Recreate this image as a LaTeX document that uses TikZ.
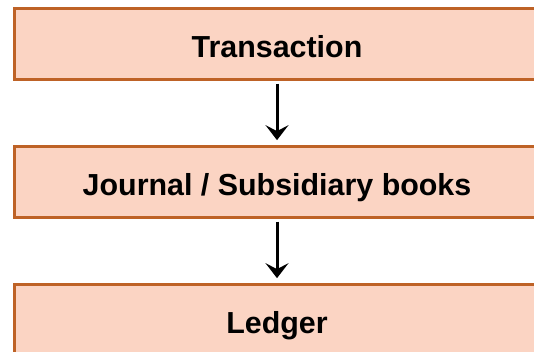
\documentclass[tikz,border=0pt]{standalone}
\usepackage{fontspec}
\setmainfont{Liberation Sans}
\usepackage{xcolor}
\usepackage{tikz}
\usetikzlibrary{positioning,arrows.meta}

\definecolor{boxline}{RGB}{190,98,38}
\definecolor{boxfill}{RGB}{251,212,195}

\begin{document}
\begin{tikzpicture}[
    stagebox/.style={draw=boxline, fill=boxfill, line width=3.2pt, outer sep=0pt,
        minimum width=524.4pt, minimum height=71.4pt, text height=26.4pt, text depth=0pt,
        font=\fontsize{30.4}{36}\selectfont\bfseries},
    flow/.style={line width=3pt, -{Stealth[length=15pt, width=23pt, inset=6pt]},
        shorten <=4pt, shorten >=6pt}
]
    \path [use as bounding box, clip] (0,0) rectangle (534pt,-352pt);

    \node [stagebox] (trans) at (277pt,-43.85pt) {Transaction};
    \node [stagebox, below=66.6pt of trans] (journal) {Journal / Subsidiary books};
    \node [stagebox, below=66.6pt of journal] (ledger) {Ledger};

    \draw [flow] (trans) -- (journal);
    \draw [flow] (journal) -- (ledger);
\end{tikzpicture}
\end{document}
